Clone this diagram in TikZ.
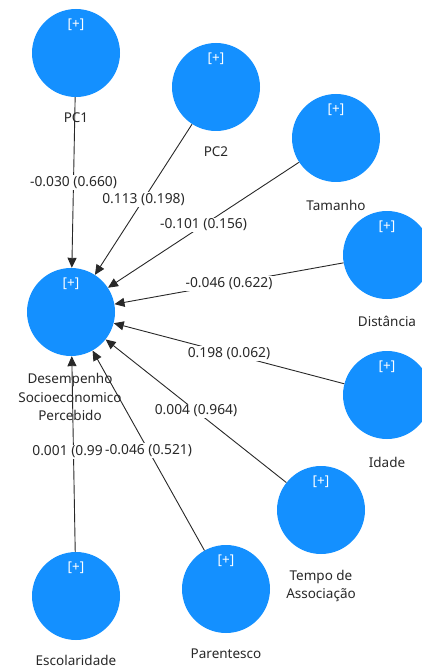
\documentclass[tikz,border=0pt]{standalone}
\usepackage{fontspec}
\setmainfont{Noto Sans}
\usetikzlibrary{arrows.meta}
\definecolor{lvblue}{RGB}{20,144,255}
\definecolor{ink}{RGB}{40,40,40}
\tikzset{
  lv/.style={circle, fill=lvblue, minimum size=88pt, inner sep=0pt},
  plus/.style={text=white, font=\fontsize{13.5}{15}\selectfont, inner sep=0pt},
  lvname/.style={text=ink, font=\fontsize{13.5}{18.5}\selectfont, align=center, inner sep=0pt},
  path/.style={draw=ink, line width=0.9pt, -{Triangle[length=10pt,width=9pt]}},
  coef/.style={fill=white, text=ink, font=\fontsize{13.8}{16}\selectfont, inner sep=1.2pt}
}
\begin{document}
\begin{tikzpicture}[x=1pt,y=-1pt]
\useasboundingbox (0,0) rectangle (422,668);
% latent variables
\node[lv] (pc1) at (76,53) {};
\node[lv] (pc2) at (216,87) {};
\node[lv] (tam) at (336,138) {};
\node[lv] (dis) at (387,255) {};
\node[lv] (ida) at (387,395) {};
\node[lv] (tem) at (321,510) {};
\node[lv] (par) at (226,589) {};
\node[lv] (esc) at (76,596) {};
\node[lv] (des) at (71,312) {};
% [+] marks
\foreach \n in {pc1,pc2,tam,dis,ida,tem,par,esc,des}
  \node[plus] (\n plus) at ([yshift=28pt]\n.center) {[+]};
% names
\node[lvname] (pc1l) at (76,118) {PC1};
\node[lvname] (pc2l) at (216,152) {PC2};
\node[lvname] (taml) at (336,205) {Tamanho};
\node[lvname] (disl) at (387,321) {Distância};
\node[lvname] (idal) at (387,462) {Idade};
\node[lvname] (teml) at (321,586) {Tempo de\\Associação};
\node[lvname] (parl) at (226,654) {Parentesco};
\node[lvname] (escl) at (76,660) {Escolaridade};
\node[lvname] (desl) at (70,397) {Desempenho\\Socioeconomico\\Percebido};
% paths
\draw[path] (pc1) -- (des) node[coef, midway] (c1) {-0.030 (0.660)};
\draw[path] (pc2) -- (des) node[coef, midway] (c2) {0.113 (0.198)};
\draw[path] (tam) -- (des) node[coef, midway] (c3) {-0.101 (0.156)};
\draw[path] (dis) -- (des) node[coef, midway] (c4) {-0.046 (0.622)};
\draw[path] (ida) -- (des) node[coef, midway] (c5) {0.198 (0.062)};
\draw[path] (tem) -- (des) node[coef, midway] (c6) {0.004 (0.964)};
\draw[path] (esc) -- (des) coordinate[midway] (m8);
\node[coef, anchor=west] (c8) at (31,452) {0.001 (0.99};
\draw[path] (par) -- (des) node[coef, midway] (c7) {-0.046 (0.521)};
\end{tikzpicture}
\end{document}
